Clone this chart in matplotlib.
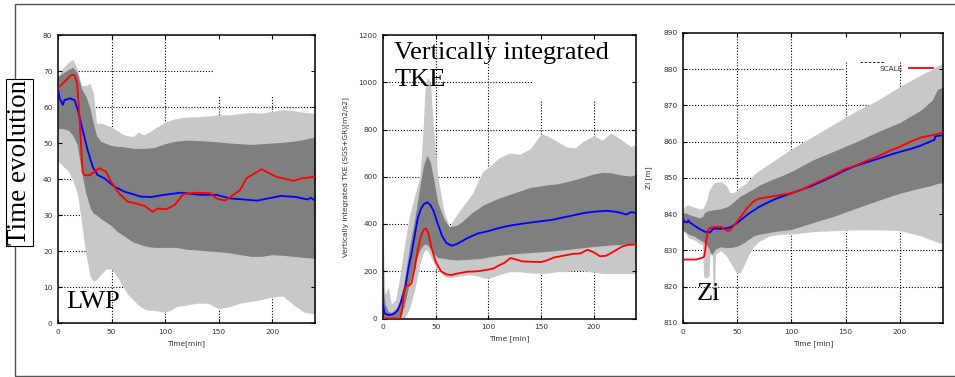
import numpy as np
import matplotlib
matplotlib.use("Agg")
import matplotlib.pyplot as plt
from matplotlib.patches import Rectangle

# ---- LWP ----
lwp_band_t = [0, 5, 10, 14, 18, 22, 26, 30, 33, 36, 40, 45, 50, 55, 60, 65, 70, 75, 80, 85, 90,
              100, 105, 110, 120, 130, 140, 150, 160, 170, 180, 190, 200, 210, 220, 230, 240]
lwp_light_hi = [68.5, 71, 72.5, 73.2, 70.5, 66, 66, 66.5, 64, 55.5, 55.5, 55, 54.5, 53.5, 52.5, 52, 51.8, 53, 52.3, 53, 54,
                55.8, 56.3, 56.8, 57.2, 57.3, 57.5, 57.8, 57.8, 58.2, 58.5, 58.3, 58.8, 59.3, 59, 58.5, 58.3]
lwp_dark_hi = [68.5, 69.5, 70.5, 71, 69.5, 65, 63, 59.5, 55.5, 52, 50.5, 49.8, 49.3, 49.1, 49, 48.8, 48.5, 48.5, 48.5, 48.6, 48.8,
               49.8, 50.2, 50.5, 50.8, 50.7, 50.5, 50.3, 50, 49.8, 49.6, 49.8, 50, 50.2, 50.5, 51, 51.7]
lwp_dark_lo = [54, 54, 53.5, 52, 49.5, 42, 36, 32, 30.5, 30, 29, 28, 27, 25.5, 24.5, 23.5, 22.5, 22, 21.5, 21.2, 21,
               21, 21, 21, 20.5, 20.3, 20, 19.8, 19.5, 19, 18.5, 18.5, 19, 18.8, 18.5, 18.2, 18]
lwp_light_lo = [45, 43.5, 42, 39.5, 36, 28, 19, 13, 11.5, 12, 13.5, 15, 15, 13, 10.5, 8, 6.5, 5, 4, 3.5, 3.5,
                3, 3.5, 4.5, 5, 5.5, 5.5, 4, 4.5, 5.5, 6, 6.5, 7.2, 7.5, 5, 3, 2.5]

lwp_blue_t = [0, 1.5, 4.5, 6, 11, 15.5, 18.5, 23, 27.7, 32.4, 37, 43.3, 52.6, 62, 77.5, 87, 99, 115,
              133, 148, 161, 186, 208, 222, 233, 236, 240]
lwp_blue = [65.2, 62.4, 60.6, 61.9, 62.4, 61.9, 59.2, 53.6, 48, 43.4, 41.1, 40.2, 37.9, 36.5, 35.1, 35, 35.6, 36.2,
            35.6, 35.6, 34.6, 34, 35.3, 35, 34.3, 34.8, 34]
lwp_red_t = [0, 6, 12.3, 15.4, 17.9, 20, 23, 24.6, 29.3, 34, 38.6, 44.8, 49.5, 57, 65, 73, 81, 88.5, 93, 101, 109,
             117, 129.6, 142, 148, 156, 170, 176, 181, 190, 204, 220, 228, 240]
lwp_red = [65.2, 67, 68.9, 68.9, 66.6, 57.3, 42, 41.1, 41, 42, 43, 42, 39.3, 36, 33.7, 33.2, 32.5, 30.9, 31.8, 31.6, 32.8,
           35.8, 36.2, 36, 34.6, 34, 36.9, 40.2, 41.1, 42.7, 40.6, 39.5, 40.2, 40.6]

# ---- Vertically integrated TKE ----
tke_band_t = [0, 1, 2, 5, 8, 12, 15, 20, 25, 30, 35, 38, 40, 42, 45, 48, 52, 58, 63, 70, 75, 80, 85, 90, 95, 100,
              110, 120, 130, 140, 150, 155, 165, 175, 182, 190, 200, 208, 216, 225, 235, 240]
tke_light_hi = [390, 200, 100, 135, 60, 80, 150, 300, 430, 520, 600, 800, 980, 1020, 1000, 800, 600, 450, 390, 440, 470,
                500, 530, 580, 625, 640, 680, 700, 695, 720, 782, 775, 750, 725, 722, 750, 774, 755, 785, 760, 728, 735]
tke_dark_hi = [150, 100, 60, 30, 25, 40, 60, 150, 300, 420, 560, 640, 670, 690, 660, 590, 490, 420, 388, 395, 410,
               430, 450, 465, 480, 490, 510, 525, 540, 555, 562, 565, 570, 580, 588, 598, 612, 618, 617, 608, 603, 610]
tke_dark_lo = [0, 0, 0, 0, 0, 0, 10, 50, 150, 230, 290, 310, 315, 312, 295, 275, 258, 255, 250, 248, 249,
               250, 252, 253, 256, 260, 267, 272, 276, 279, 282, 284, 288, 292, 296, 300, 305, 308, 311, 313, 317, 320]
tke_light_lo = [0, 0, 0, 0, 0, 0, 0, 0, 40, 120, 230, 275, 291, 290, 265, 235, 205, 180, 172, 178, 182,
                184, 184, 180, 172, 170, 185, 198, 198, 193, 191, 192, 198, 200, 204, 202, 196, 191, 190, 190, 191, 191]

tke_blue_t = [0, 1, 2, 5, 8, 11, 14, 17, 21, 24, 27, 30, 33, 36, 39, 42, 45, 48, 52, 56, 60, 65, 70, 80, 90, 100,
              110, 120, 130, 140, 150, 160, 170, 180, 190, 200, 212, 220, 225, 231, 235, 240]
tke_blue = [65, 30, 20, 15, 16, 22, 35, 70, 130, 210, 275, 350, 425, 465, 485, 492, 480, 455, 400, 350, 320, 308, 315,
            340, 360, 370, 383, 393, 400, 406, 412, 417, 427, 436, 446, 452, 456, 452, 448, 440, 450, 447]
tke_red_t = [0, 16, 18, 20, 22, 25, 27, 30, 33, 36, 39, 41, 43, 46, 50, 55, 60, 65, 70, 80, 90, 100, 105, 110, 115,
             121, 126, 132, 140, 150, 155, 162, 170, 181, 187, 194, 200, 206, 212, 219, 227, 233, 240]
tke_red = [0, 0, 30, 110, 140, 140, 150, 210, 290, 350, 378, 380, 360, 300, 240, 200, 187, 184, 190, 198, 200, 207, 212,
           225, 235, 256, 250, 242, 240, 239, 245, 258, 265, 274, 275, 291, 280, 263, 266, 284, 305, 312, 313]

# ---- Zi ----
zi_band_t = [0, 3, 5, 10, 15, 18, 19, 20, 22, 24, 25, 27, 28, 29, 30, 35, 40, 43, 47, 50, 53, 58, 60, 65, 70, 80, 90,
             100, 120, 140, 160, 180, 200, 220, 230, 235, 240]
zi_light_hi = [841.5, 842.5, 842.5, 842, 841.5, 841.5, 842, 842.5, 844, 846.5, 847, 848, 848.5, 848.7, 848.8, 849,
               848, 846, 846, 846.7, 847.5, 848.5, 849.3, 850.8, 852, 854, 856, 858, 861.5, 865, 868.5, 871.5, 875.2,
               878.5, 880, 881, 881.7]
zi_dark_hi = [840.5, 840.2, 840, 839.5, 839, 839.3, 840, 840.5, 840.8, 841, 841, 841.2, 841.2, 841.3, 841.3, 841.5,
              842, 842.5, 843.5, 844.3, 845, 845.8, 846.2, 847, 848, 849.3, 850.5, 851.8, 855, 857.5, 860, 862.8,
              865.3, 868.8, 871.5, 874.5, 875]
zi_dark_lo = [835.5, 835, 834.5, 834, 833, 832.5, 832.3, 832, 831.5, 830.5, 829.5, 829, 829.5, 830, 830.5, 831,
              830.8, 830.8, 831, 831.2, 831.6, 832.5, 833, 834, 834.5, 835, 835.5, 835.8, 837.7, 839.5, 841.7, 843.8,
              845.8, 847.3, 848, 848.5, 848.7]
zi_light_lo = [836, 834.5, 833.5, 833, 832, 831.5, 823, 822.5, 822.5, 823, 829, 828.5, 816, 816, 829, 830, 828.5,
               827, 825, 823.5, 824, 827, 828.5, 831, 832.5, 834, 834.5, 834.5, 835.2, 835.5, 835.7, 835.7, 835.5,
               834, 832.8, 832.3, 832]

zi_blue_t = [0, 2, 4, 5, 6, 10, 15, 20, 25, 28, 35, 42, 47, 50, 55, 60, 70, 80, 86, 100, 117, 130, 140, 150, 160, 170,
             180, 190, 200, 210, 220, 230, 232, 233, 240]
zi_blue = [838.6, 837.8, 837.8, 838.3, 837.8, 837, 836, 835.2, 835, 836, 836, 836.2, 837, 837.6, 838.8, 840, 842,
           843.5, 844.3, 845.8, 847.6, 849.3, 850.7, 852.2, 853.4, 854.4, 855.3, 856.3, 857.2, 858, 859, 860.3, 860.5,
           861.5, 861.8]
zi_red_t = [0, 12, 18, 19.5, 20.5, 21.5, 23, 25, 30, 35, 38, 41, 43, 46, 50, 55, 60, 65, 70, 80, 90, 100, 110, 120,
            130, 140, 150, 160, 170, 180, 190, 200, 210, 220, 230, 240]
zi_red = [827.5, 827.5, 828, 828.3, 830, 833, 835.5, 836.2, 836.5, 836.5, 836, 835.4, 835.5, 836.5, 838, 840, 842,
          843.5, 844.3, 844.8, 845.3, 845.8, 846.8, 848.3, 849.6, 851, 852.5, 853.5, 854.8, 856, 857.4, 858.6, 860,
          861.2, 861.8, 862.5]

LIGHT = "#c8c8c8"
DARK = "#7f7f7f"
SERIF = "Liberation Serif"
TICKFS = 5.3

plt.rcParams["font.family"] = "DejaVu Sans"

fig = plt.figure(figsize=(9.55, 3.77), dpi=100)
W, H = 955.0, 377.0


def px_axes(left, top, right, bottom):
    return fig.add_axes([left / W, 1 - bottom / H, (right - left) / W, (bottom - top) / H])


def draw_grid(ax, xs, ys, x_cut, y_cut, v_top, ylo, yhi):
    # gnuplot style dotted grid, cut away where the (empty) key sits
    for y in ys:
        if ylo < y < yhi:
            xe = x_cut if y >= y_cut else 240
            ax.hlines(y, 0, xe, colors="black", linestyles=(0, (1, 1.6)), lw=0.8, zorder=0.5)
    for x in xs:
        if 0 < x < 240:
            ye = v_top if x >= x_cut else yhi
            ax.vlines(x, ylo, ye, colors="black", linestyles=(0, (1, 1.6)), lw=0.8, zorder=0.5)


def panel(ax, band_t, l_hi, d_hi, d_lo, l_lo, bt, bv, rt, rv, ylim, ystep, xlabel):
    ax.fill_between(band_t, l_lo, l_hi, color=LIGHT, lw=0, zorder=1)
    ax.fill_between(band_t, d_lo, d_hi, color=DARK, lw=0, zorder=2)
    ax.plot(bt, bv, color="#0000ff", lw=1.3, zorder=3)
    red, = ax.plot(rt, rv, color="#ff0000", lw=1.3, zorder=4)
    ax.set_xlim(0, 240)
    ax.set_ylim(*ylim)
    xs = np.arange(0, 201, 50)
    ys = np.arange(ylim[0], ylim[1] + ystep / 2, ystep)
    ax.set_xticks(xs)
    ax.set_yticks(ys)
    ax.tick_params(direction="in", length=3, width=0.8, top=True, right=True,
                   labelsize=TICKFS, labelcolor="#333333", pad=4)
    for s in ax.spines.values():
        s.set_linewidth(1.1)
    ax.set_xlabel(xlabel, fontsize=TICKFS, color="#333333", labelpad=4)
    return xs, ys, red


ax1 = px_axes(58, 35, 315, 323)
xs, ys, _ = panel(ax1, lwp_band_t, lwp_light_hi, lwp_dark_hi, lwp_dark_lo, lwp_light_lo,
                  lwp_blue_t, lwp_blue, lwp_red_t, lwp_red, (0, 80), 10, "Time[min]")
draw_grid(ax1, xs, ys, 146, 65, 63.3, 0, 80)
ax1.text(0.031, 0.052, "LWP", transform=ax1.transAxes, family=SERIF, fontsize=19, va="baseline", zorder=6)

ax2 = px_axes(383, 35, 636, 318.5)
xs, ys, _ = panel(ax2, tke_band_t, tke_light_hi, tke_dark_hi, tke_dark_lo, tke_light_lo,
                  tke_blue_t, tke_blue, tke_red_t, tke_red, (0, 1200), 200, "Time [min]")
draw_grid(ax2, xs, ys, 142, 950, 925, 0, 1200)
ax2.set_ylabel("Vertically integrated TKE (SGS+GR)[m2/s2]", fontsize=TICKFS, color="#333333", labelpad=7)
ax2.text(0.045, 0.975, "Vertically integrated\nTKE", transform=ax2.transAxes, family=SERIF, fontsize=19,
         va="top", ha="left", linespacing=1.3, zorder=6)

ax3 = px_axes(683, 33, 943, 323)
xs, ys, red3 = panel(ax3, zi_band_t, zi_light_hi, zi_dark_hi, zi_dark_lo, zi_light_lo,
                     zi_blue_t, zi_blue, zi_red_t, zi_red, (810, 890), 10, "Time [min]")
draw_grid(ax3, xs, ys, 148, 875, 882, 810, 890)
ax3.set_ylabel("Zi [m]", fontsize=TICKFS, color="#333333", labelpad=8)
ax3.plot([163, 186], [882, 882], color="black", ls=(0, (3, 2)), lw=0.6, zorder=0.6)
ax3.legend([red3], ["SCALE"], loc="upper right", bbox_to_anchor=(0.962, 0.888), markerfirst=False,
           frameon=False, fontsize=TICKFS, handlelength=3.3, handletextpad=0.8, borderpad=0, borderaxespad=0,
           labelcolor="#333333")
ax3.text(0.054, 0.079, "Zi", transform=ax3.transAxes, family=SERIF, fontsize=19, va="baseline", zorder=6)

# outer frame, open on the right side
fig.add_artist(Rectangle((15 / W, 1 - 376 / H), 960 / W, 372 / H, transform=fig.transFigure,
                         fill=False, ec="#555555", lw=1.0, clip_on=False))
fig.text(19.5 / W, 1 - 162.5 / H, "Time evolution", rotation=90, family=SERIF, fontsize=19.5,
         ha="center", va="center",
         bbox=dict(boxstyle="square,pad=0.04", fc="white", ec="black", lw=0.8))

fig.savefig("out.png", dpi=100)
